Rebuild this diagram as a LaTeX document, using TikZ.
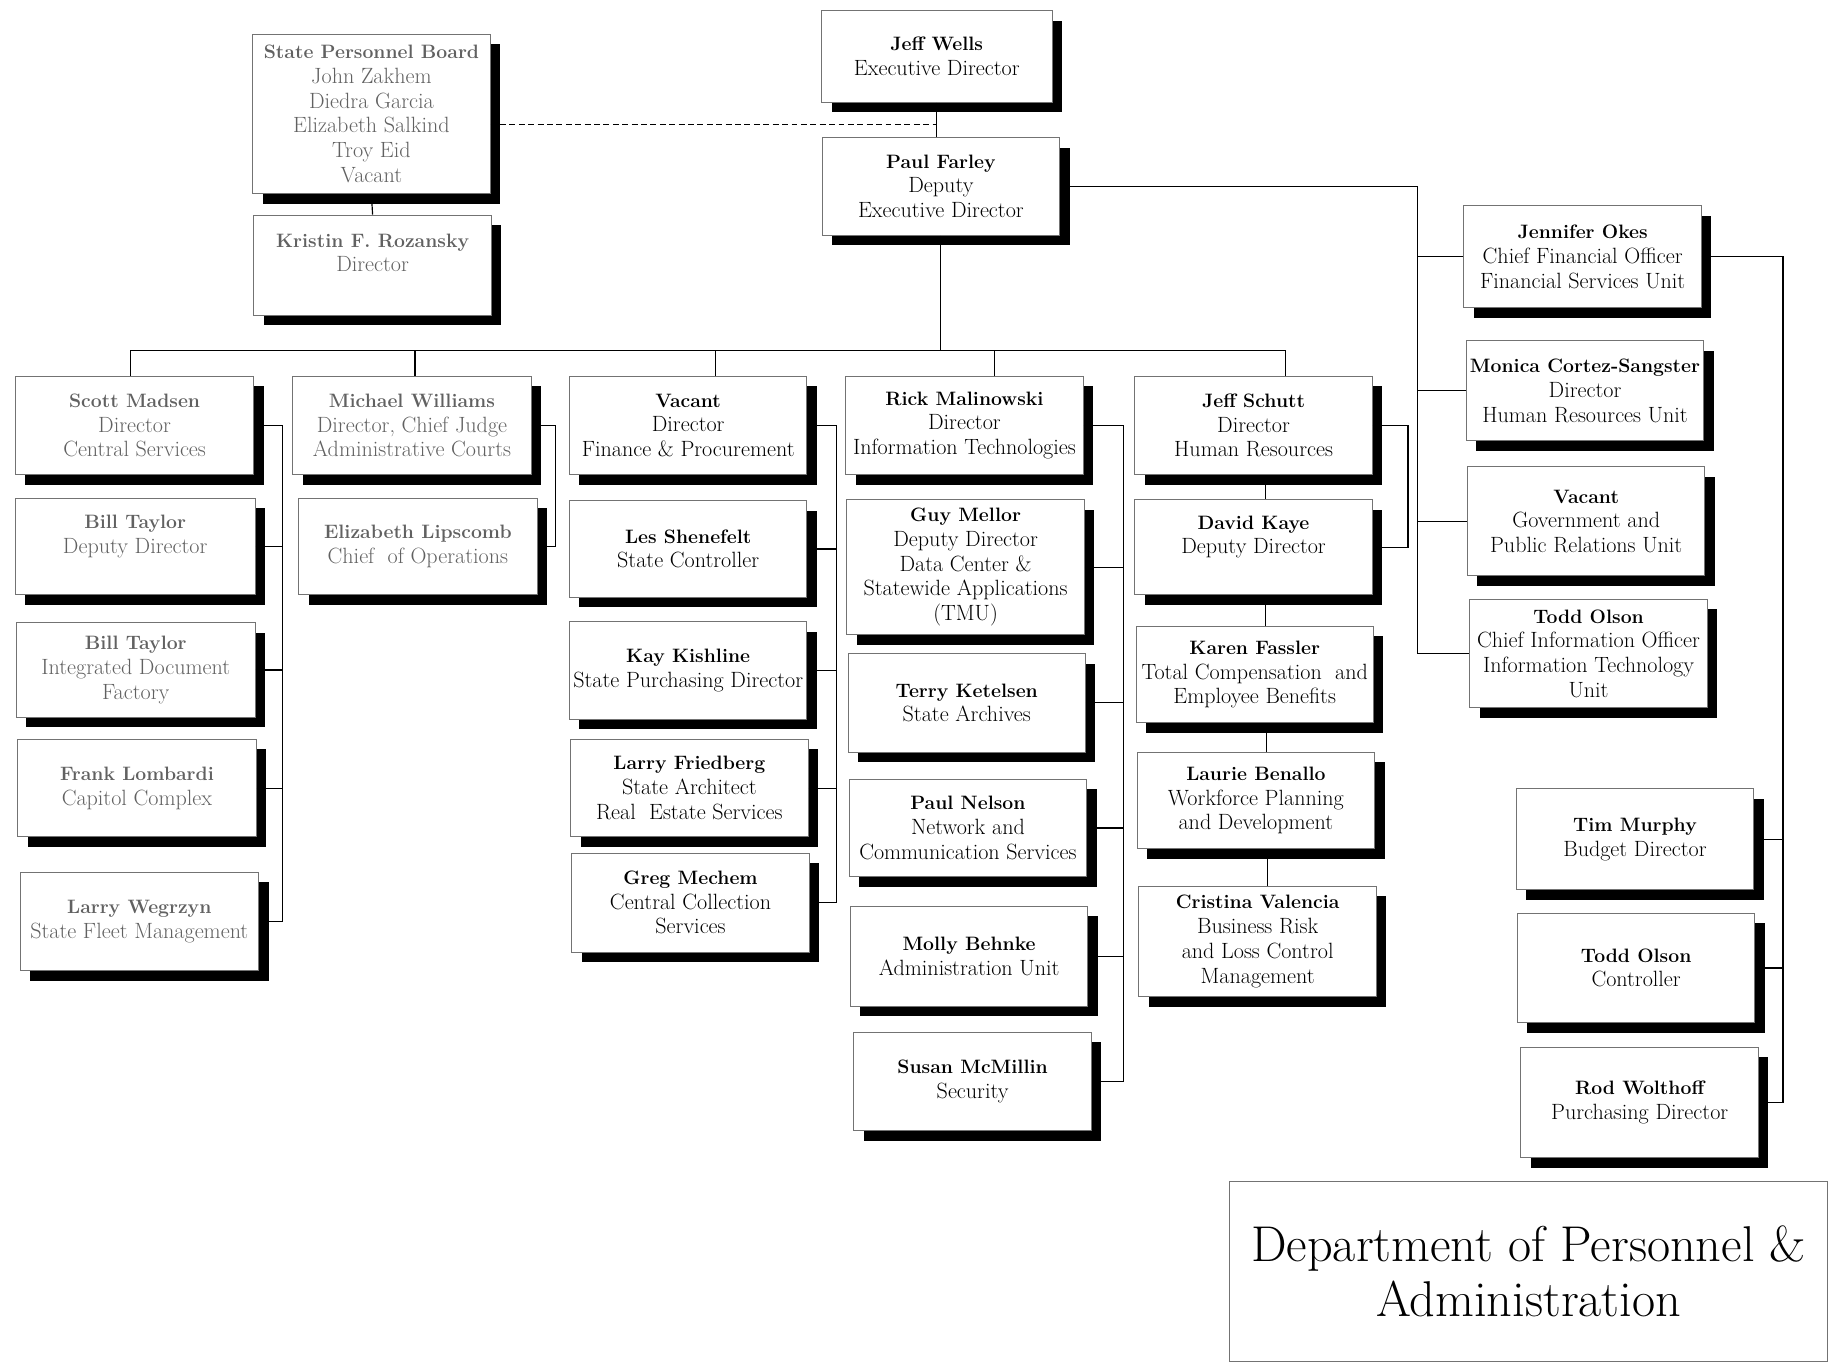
\documentclass[tikz,border=0pt]{standalone}
\usepackage{fontspec}
\usetikzlibrary{shadows}
\newcommand\nm[1]{{\fontsize{16.5}{21}\selectfont\bfseries #1}}
\tikzset{
  box/.style={draw=black!55, line width=0.8pt, fill=white, align=center, inner sep=1pt,
    minimum width=202pt, minimum height=84pt, font=\fontsize{18.8}{21}\selectfont,
    drop shadow={shadow xshift=8.5pt, shadow yshift=-8.5pt, fill=black, opacity=1}},
  dimbox/.style={box, text=black!62},
  link/.style={line width=1pt}
}
\begin{document}
\begin{tikzpicture}[x=1pt, y=-1pt]
\useasboundingbox (0,0) rectangle (1568,1160);
\node[box, minimum width=196pt, minimum height=78pt] (jw) at (797,48) {\nm{Jeff Wells}\\Executive Director};
\node[box, minimum height=83pt] (pf) at (800.5,158.5) {\nm{Paul Farley}\\Deputy\\Executive Director};
\node[dimbox, minimum height=136pt] (spb) at (316,97) {\nm{State Personnel Board}\\John Zakhem\\Diedra Garcia\\Elizabeth Salkind\\Troy Eid\\Vacant};
\node[dimbox, minimum height=85pt] (kr) at (317,225.5) {\nm{Kristin F. Rozansky}\\Director\\\mbox{}};
\node[dimbox, minimum width=203pt] (sm) at (114.5,362) {\nm{Scott Madsen}\\Director\\Central Services};
\node[dimbox, minimum width=204pt, minimum height=82pt] (bt1) at (115,465) {\nm{Bill Taylor}\\Deputy Director\\\mbox{}};
\node[dimbox, minimum width=203pt, minimum height=80pt] (bt2) at (115.5,570) {\nm{Bill Taylor}\\Integrated Document\\Factory};
\node[dimbox, minimum width=203pt, minimum height=83pt] (fl) at (116.5,670.5) {\nm{Frank Lombardi}\\Capitol Complex};
\node[dimbox, minimum width=203pt] (lw) at (118.5,784) {\nm{Larry Wegrzyn}\\State Fleet Management};
\node[dimbox, minimum width=203pt] (mw) at (350.5,362) {\nm{Michael Williams}\\Director, Chief Judge\\Administrative Courts};
\node[dimbox, minimum width=203pt, minimum height=82pt] (el) at (355.5,465) {\nm{Elizabeth Lipscomb}\\Chief~ of Operations};
\node[box] (vf) at (585.5,362) {\nm{Vacant}\\Director\\Finance \& Procurement};
\node[box, minimum height=82pt] (ls) at (585.5,467) {\nm{Les Shenefelt}\\State Controller};
\node[box, minimum height=83pt] (kk) at (585.5,570.5) {\nm{Kay Kishline}\\State Purchasing Director};
\node[box, minimum height=83pt] (lf) at (586.5,670.5) {\nm{Larry Friedberg}\\State Architect\\Real~ Estate Services};
\node[box] (gm) at (587.5,768) {\nm{Greg Mechem}\\Central Collection\\Services};
\node[box] (rm) at (820.5,362) {\nm{Rick Malinowski}\\Director\\Information Technologies};
\node[box, minimum height=115pt] (gy) at (821.5,482.5) {\nm{Guy Mellor}\\Deputy Director\\Data Center \&\\Statewide Applications\\(TMU)};
\node[box] (tk) at (822.5,598) {\nm{Terry Ketelsen}\\State Archives};
\node[box, minimum height=83pt] (pn) at (823.5,704.5) {\nm{Paul Nelson}\\Network and\\Communication Services};
\node[box, minimum height=85pt] (mb) at (824.5,813.5) {\nm{Molly Behnke}\\Administration Unit};
\node[box] (su) at (827.5,920) {\nm{Susan McMillin}\\Security};
\node[box] (js) at (1066.5,362) {\nm{Jeff Schutt}\\Director\\Human Resources};
\node[box, minimum height=81pt] (dk) at (1066.5,465.5) {\nm{David Kaye}\\Deputy Director\\\mbox{}};
\node[box, minimum height=82pt] (kf) at (1067.5,574) {\nm{Karen Fassler}\\Total Compensation~ and\\Employee Benefits};
\node[box, minimum height=82pt] (lb) at (1068.5,681) {\nm{Laurie Benallo}\\Workforce Planning\\and Development};
\node[box, minimum height=94pt] (cv) at (1070,801) {\nm{Cristina Valencia}\\Business Risk\\and Loss Control\\Management};
\node[box, minimum height=87pt] (jo) at (1346.5,218.5) {\nm{Jennifer Okes}\\Chief Financial Officer\\Financial Services Unit};
\node[box, minimum height=85pt] (mc) at (1348.5,332.5) {\nm{Monica Cortez-Sangster}\\Director\\Human Resources Unit};
\node[box, minimum height=93pt] (vg) at (1349.5,443.5) {\nm{Vacant}\\Government and\\Public Relations Unit};
\node[box, minimum height=92pt] (to) at (1351.5,556) {\nm{Todd Olson}\\Chief Information Officer\\Information Technology\\Unit};
\node[box, minimum height=86pt] (tm) at (1391,714) {\nm{Tim Murphy}\\Budget Director};
\node[box, minimum height=93pt] (tc) at (1392,823.5) {\nm{Todd Olson}\\Controller};
\node[box, minimum height=94pt] (rw) at (1395,938) {\nm{Rod Wolthoff}\\Purchasing Director};
\node[draw=black!55, line width=0.8pt, minimum width=509pt, minimum height=153pt, align=center, font=\fontsize{42.8}{47}\selectfont] (ttl) at (1300.5,1081.5) {Department of Personnel \&\\Administration};
\draw[link] (jw.south) -- (jw.south |- pf.north);
\draw[link, dash pattern=on 5pt off 3pt] ([yshift=-9pt]spb.east) -- ([yshift=-9pt]spb.east -| jw.south);
\draw[link] (spb.south) -- (kr.north);
\draw[link] (pf.south) -- ++(0,98) coordinate (bus);
\draw[link] ([xshift=-3.5pt]sm.north |- bus) -- ([xshift=27.5pt]js.north |- bus);
\foreach \n/\d in {sm/-3.5, mw/2.5, vf/23.5, rm/25.5, js/27.5}
  \draw[link] ([xshift=\d pt]\n.north) -- ([xshift=\d pt]\n.north |- bus);
\coordinate (c1) at ([xshift=24pt]sm.east);
\draw[link] (sm.east) -- (c1) |- (lw.east);
\foreach \n in {bt1,bt2,fl}
  \draw[link] (\n.east) -- (\n.east -| c1);
\draw[link] (mw.east) -- ++(20,0) |- (el.east);
\coordinate (c3) at ([xshift=25pt]vf.east);
\draw[link] (vf.east) -- (c3) |- (gm.east);
\foreach \n in {ls,kk,lf}
  \draw[link] (\n.east) -- (\n.east -| c3);
\coordinate (c4) at ([xshift=34pt]rm.east);
\draw[link] (rm.east) -- (c4) |- (su.east);
\foreach \n in {gy,tk,pn,mb}
  \draw[link] (\n.east) -- (\n.east -| c4);
\draw[link] (js.east) -- ++(30,0) |- (dk.east);
\foreach \a/\b in {js/dk, dk/kf, kf/lb, lb/cv}
  \draw[link] ([xshift=10pt]\a.south) -- ([xshift=10pt]\a.south |- \b.north);
\coordinate (r1) at ([xshift=304pt]pf.east);
\draw[link] (pf.east) -- (r1) |- (to.west);
\foreach \n in {jo,mc,vg}
  \draw[link] (\n.west) -- (\n.west -| r1);
\coordinate (r2) at ([xshift=69pt]jo.east);
\draw[link] (jo.east) -- (r2) |- (rw.east);
\foreach \n in {tm,tc}
  \draw[link] (\n.east) -- (\n.east -| r2);
\end{tikzpicture}
\end{document}
